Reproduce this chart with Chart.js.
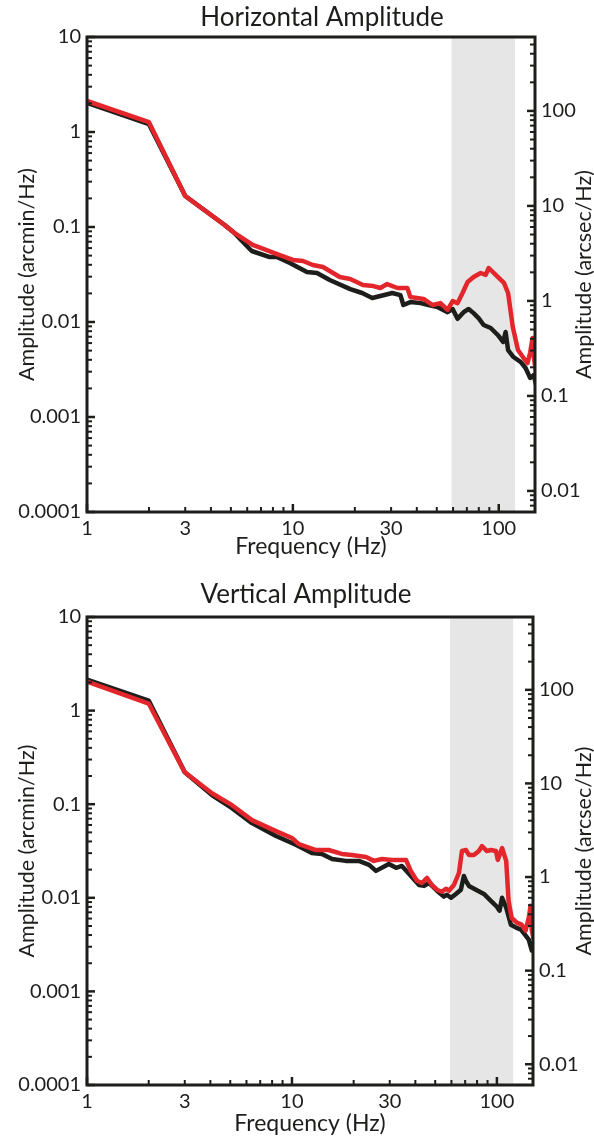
<!DOCTYPE html>
<html>
<head>
<meta charset="utf-8">
<title>Horizontal and vertical amplitude</title>
<script src="https://cdn.jsdelivr.net/npm/chart.js@4.4.0/dist/chart.umd.min.js"></script>
<style>
  html, body { margin: 0; padding: 0; background: #fff; }
  #wrap { position: relative; width: 594px; height: 1137px; }
  canvas { position: absolute; left: 0; }
  #horiz { top: 0; }
  #vert { top: 568px; }
</style>
</head>
<body>
<div id="wrap">
  <canvas id="horiz" width="594" height="568"></canvas>
  <canvas id="vert" width="594" height="569"></canvas>
</div>
<script>
// tick labels shown on the axes
const xTickLabels = [1, 3, 10, 30, 100];
const leftTickLabels = [0.0001, 0.001, 0.01, 0.1, 1, 10];
const rightTickLabels = [0.01, 0.1, 1, 10, 100];
const bandHz = [59, 120];
const arcsecPerArcmin = 60;

// horizontal amplitude, black trace
const horizFreqK = [1, 2, 3, 4.66, 5.15, 6.31, 7.72, 8.36, 9.67, 11.7, 13.1, 15.1, 19.0, 21.7, 24.3, 26.6,
  30.4, 33.3, 34.4, 37.2, 41.7, 45.6, 50.4, 56.4, 59.7, 63.1, 67.5, 71.4, 75.5, 79.8, 84.5, 91.4,
  98.9, 105, 108, 111, 118, 128, 135, 142, 148, 153];
const horizAmpK = [2.02, 1.21, 0.212, 0.105, 0.088, 0.0559, 0.0483, 0.0483, 0.0418, 0.0336, 0.0328, 0.0277, 0.0222, 0.0202, 0.0179, 0.0188,
  0.0202, 0.0192, 0.0151, 0.0162, 0.0158, 0.0151, 0.0144, 0.0127, 0.0137, 0.0108, 0.0127, 0.0137, 0.0124, 0.0110, 0.00929, 0.00865,
  0.0073, 0.00616, 0.00785, 0.00507, 0.00428, 0.00379, 0.00328, 0.00258, 0.00277, 0.00202];
// horizontal amplitude, red trace
const horizFreqR = [1, 2, 3, 4.66, 5.15, 6.38, 8.64, 10.0, 11.2, 12.5, 14.0, 16.9, 19.0, 21.9, 24.6, 26.6, 28.7,
  32.2, 36.0, 37.2, 43.1, 47.7, 52.1, 56.4, 59.7, 63.1, 66.7, 70.6, 75.5, 81.7, 86.4, 89.4, 98.9,
  106, 111, 117, 124, 131, 138, 142, 146, 148, 153];
const horizAmpR = [2.12, 1.27, 0.212, 0.105, 0.088, 0.0647, 0.0507, 0.045, 0.0439, 0.0398, 0.0379, 0.0298, 0.0284, 0.0245, 0.0239, 0.0228, 0.0251,
  0.0228, 0.0228, 0.0183, 0.0175, 0.0151, 0.0158, 0.0134, 0.0166, 0.0158, 0.0202, 0.0264, 0.0298, 0.0328, 0.0313, 0.037, 0.0298,
  0.0258, 0.0202, 0.00886, 0.00507, 0.00428, 0.0037, 0.00472, 0.00679, 0.00428, 0.00264];

// vertical amplitude, black trace
const vertFreqK = [1, 2, 3, 4.07, 5.10, 6.38, 8.36, 10.5, 12.5, 14.0, 15.7, 18.3, 21.2, 23.8, 25.7, 29.7,
  32.2, 34.4, 41.7, 44.1, 46.6, 51.0, 55.1, 57.0, 59.7, 63.1, 66.7, 69.0, 70.6, 73.0, 79.0, 86.4,
  93.5, 100, 103, 106, 111, 117, 124, 131, 137, 143, 148, 153];
const vertAmpK = [2.14, 1.28, 0.219, 0.125, 0.0906, 0.0628, 0.0457, 0.0366, 0.0301, 0.0294, 0.026, 0.0248, 0.0248, 0.0225, 0.0194, 0.023,
  0.0209, 0.0219, 0.0137, 0.0134, 0.0144, 0.0119, 0.0103, 0.0108, 0.0100, 0.0110, 0.0122, 0.0171, 0.0152, 0.0134, 0.0122, 0.0110,
  0.00929, 0.00802, 0.00728, 0.0100, 0.00783, 0.00516, 0.0048, 0.00457, 0.00404, 0.00357, 0.00273, 0.00294];
// vertical amplitude, red trace
const vertFreqR = [1, 2, 3, 4.07, 5.10, 6.38, 8.36, 10.0, 10.8, 13.1, 15.1, 17.5, 19.6, 23.0, 25.1, 27.5,
  30.7, 36.0, 38.0, 40.7, 43.1, 45.6, 48.2, 51.0, 53.9, 56.4, 58.3, 61.7, 65.3, 67.5, 70.6, 73.0,
  77.2, 81.7, 84.5, 89.4, 93.5, 98.9, 101, 106, 111, 114, 118, 125, 132, 138, 143, 146, 148, 153];
const vertAmpR = [2.04, 1.19, 0.219, 0.131, 0.0976, 0.0676, 0.0516, 0.0435, 0.0375, 0.0324, 0.0324, 0.0294, 0.0287, 0.0273, 0.0248, 0.026,
  0.0254, 0.0254, 0.0194, 0.0152, 0.0144, 0.0163, 0.0137, 0.0122, 0.0116, 0.0125, 0.0119, 0.0137, 0.0185, 0.0316, 0.0324, 0.0287,
  0.0287, 0.0316, 0.0357, 0.0316, 0.0324, 0.0316, 0.0254, 0.034, 0.0248, 0.00929, 0.00612, 0.00542, 0.00516, 0.00446, 0.00612, 0.00822, 0.00446, 0.00316];

const ink = '#1d1d1b';
const red = '#e3262b';
const family = 'Lato, "Open Sans", sans-serif';

function pts(xs, ys) { return xs.map((x, i) => ({x: x, y: ys[i]})); }

function pick(list, v) {
  const t = list.find(t => Math.abs(v / t - 1) < 1e-6);
  return t === undefined ? '' : String(t);
}

// log tick marks pointing into the plot
function eachLogTick(scale, cb) {
  const lo = Math.floor(Math.log10(scale.min)), hi = Math.ceil(Math.log10(scale.max));
  for (let e = lo; e <= hi; e++) {
    for (let m = 1; m < 10; m++) {
      const v = m * Math.pow(10, e);
      if (v < scale.min * 0.999 || v > scale.max * 1.001) continue;
      cb(scale.getPixelForValue(v), m === 1);
    }
  }
}

const decor = {
  id: 'decor',
  beforeDatasetsDraw(chart) {
    const {ctx, chartArea: a, scales: {x}} = chart;
    const x0 = x.getPixelForValue(bandHz[0]), x1 = x.getPixelForValue(bandHz[1]);
    ctx.save();
    ctx.fillStyle = '#e6e6e6';
    ctx.fillRect(x0, a.top, x1 - x0, a.bottom - a.top);
    ctx.restore();
  },
  afterDatasetsDraw(chart, args, o) {
    const {ctx, chartArea: a, scales} = chart;
    ctx.save();
    ctx.strokeStyle = ink;
    ctx.lineCap = 'butt';
    const mark = (x1, y1, x2, y2, major) => {
      ctx.lineWidth = major ? 2.5 : 2;
      ctx.beginPath(); ctx.moveTo(x1, y1); ctx.lineTo(x2, y2); ctx.stroke();
    };
    eachLogTick(scales.x, (px, major) => mark(px, a.bottom, px, a.bottom - (major ? 8 : 5), major));
    eachLogTick(scales.y, (py, major) => mark(a.left, py, a.left + (major ? 8 : 5), py, major));
    eachLogTick(scales.y2, (py, major) => mark(a.right, py, a.right - (major ? 8 : 5), py, major));

    ctx.lineWidth = 3;
    ctx.strokeRect(a.left, a.top, a.right - a.left, a.bottom - a.top);

    ctx.fillStyle = ink;
    ctx.textAlign = 'center';
    ctx.textBaseline = 'alphabetic';
    ctx.font = '26px ' + family;
    ctx.fillText(o.title, o.titleX, o.titleY);

    ctx.font = '21.5px ' + family;
    ctx.textBaseline = 'middle';
    ctx.translate(o.rightTitleX, (a.top + a.bottom) / 2);
    ctx.rotate(-Math.PI / 2);
    ctx.fillText('Amplitude (arcsec/Hz)', 0, 0);
    ctx.restore();
  }
};

function makeChart(id, g) {
  const tickFont = {family: family, size: 20};
  return new Chart(document.getElementById(id), {
    type: 'line',
    data: {
      datasets: [
        {data: pts(g.freqR, g.ampR), borderColor: red, order: 0},
        {data: pts(g.freqK, g.ampK), borderColor: ink, order: 1}
      ]
    },
    options: {
      responsive: false,
      animation: false,
      devicePixelRatio: 1,
      layout: {padding: {top: g.top, left: 0, right: 0, bottom: 0}},
      elements: {
        point: {radius: 0},
        line: {borderWidth: 4.5, tension: 0, borderJoinStyle: 'round'}
      },
      plugins: {
        legend: {display: false},
        tooltip: {enabled: false},
        decor: {title: g.title, titleX: g.titleX, titleY: g.titleY, rightTitleX: g.rightTitleX}
      },
      scales: {
        x: {
          type: 'logarithmic', position: 'bottom', min: 1, max: 150,
          grid: {display: false, drawTicks: false}, border: {display: false},
          ticks: {autoSkip: false, maxRotation: 0, padding: 5, color: ink, font: tickFont,
            callback: v => pick(xTickLabels, v)},
          title: {display: true, text: 'Frequency (Hz)', color: ink, font: {family: family, size: 23},
            padding: {top: 0, bottom: g.xTitlePad}},
          afterFit: s => { s.height = g.xAxisH; }
        },
        y: {
          type: 'logarithmic', position: 'left', min: leftTickLabels[0], max: leftTickLabels[leftTickLabels.length - 1],
          grid: {display: false, drawTicks: false}, border: {display: false},
          ticks: {autoSkip: false, padding: 6, color: ink, font: tickFont,
            callback: v => pick(leftTickLabels, v)},
          title: {display: true, text: 'Amplitude (arcmin/Hz)', color: ink, font: {family: family, size: 21.5},
            padding: {top: 14, bottom: 0}},
          afterFit: s => { s.width = g.left; }
        },
        y2: {
          type: 'logarithmic', position: 'right',
          min: leftTickLabels[0] * arcsecPerArcmin, max: leftTickLabels[leftTickLabels.length - 1] * arcsecPerArcmin,
          grid: {display: false, drawTicks: false}, border: {display: false},
          ticks: {autoSkip: false, padding: 6, color: ink, font: tickFont,
            callback: v => pick(rightTickLabels, v)},
          afterFit: s => { s.width = g.rightW; }
        }
      }
    },
    plugins: [decor]
  });
}

makeChart('horiz', {
  title: 'Horizontal Amplitude', titleX: 322, titleY: 26,
  freqK: horizFreqK, ampK: horizAmpK, freqR: horizFreqR, ampR: horizAmpR,
  top: 37, left: 87, rightW: 59, xAxisH: 56, xTitlePad: 8, rightTitleX: 584
});

makeChart('vert', {
  title: 'Vertical Amplitude', titleX: 306, titleY: 35,
  freqK: vertFreqK, ampK: vertAmpK, freqR: vertFreqR, ampR: vertAmpR,
  top: 49, left: 87, rightW: 61, xAxisH: 52, xTitlePad: 0, rightTitleX: 584
});
</script>
</body>
</html>
